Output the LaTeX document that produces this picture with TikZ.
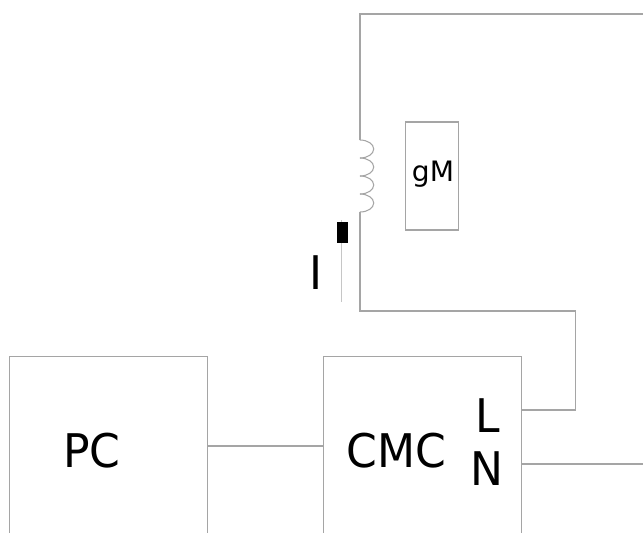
\documentclass[tikz,border=0pt]{standalone}
\usepackage{fontspec}
\setmainfont{DejaVu Sans}
\newfontfamily\narrowfont[FakeStretch=0.95]{DejaVu Sans}
\definecolor{wire_gray}{RGB}{165, 165, 165}
\tikzstyle{box}=[rectangle,draw=wire_gray,line width=0.6pt,inner sep=0pt,
  minimum width=3.96cm,minimum height=3.6cm]
\tikzstyle{gbox}=[rectangle,draw=wire_gray,line width=0.6pt,inner sep=0pt,
  minimum width=1.07cm,minimum height=2.16cm]
\tikzstyle{bigtext}=[inner sep=0pt,font=\narrowfont\fontsize{26.4}{30}\selectfont]
\tikzstyle{smalltext}=[inner sep=0pt,font=\fontsize{16}{19}\selectfont]
\tikzstyle{wire}=[draw=wire_gray,line width=0.6pt]
\begin{document}
\begin{tikzpicture}[x=0.02cm,y=-0.02cm]
    \useasboundingbox (0,0) rectangle (643,532);
    \clip (0,0) rectangle (643,532);
    \node [style=box] (pc) at (108.5,446) {};
    \node [style=box] (cmc) at (422.8,446) {};
    \node [style=gbox] (gm) at (431.8,176) {};
    \node [style=bigtext] (pclabel) at (91.8,451) {PC};
    \node [style=bigtext] (cmclabel) at (396.5,451) {CMC};
    \node [style=bigtext] (llabel) at (488,416) {L};
    \node [style=bigtext] (nlabel) at (487,469) {N};
    \node [style=bigtext] (ilabel) at (316,273) {I};
    \node [style=smalltext,anchor=base] (gmlabel) at (433,181.5) {gM};
    \coordinate (lout) at (521.6,410);
    \coordinate (lcorner) at (575.5,410);
    \coordinate (lup) at (575.5,311);
    \coordinate (lleft) at (360,311);
    \coordinate (coilend) at (360,212);
    \coordinate (coilstart) at (360,140);
    \coordinate (topleft) at (360,14);
    \coordinate (topright) at (643,14);
    \coordinate (nout) at (521.6,464);
    \coordinate (nend) at (643,464);
    \coordinate (leadtop) at (341.7,220);
    \coordinate (leadend) at (341.7,302);
    \draw [style=wire] (pc.east) to (cmc.west);
    \draw [style=wire] (lout) -- (lcorner) -- (lup) -- (lleft) -- (coilend);
    \draw [style=wire] (coilstart) -- (topleft) -- (topright);
    \draw [style=wire] (nout) to (nend);
    \foreach \i in {0,1,2,3} {
      \draw [style=wire] (360,140+18*\i) arc [start angle=-90,end angle=90,x radius=13.7,y radius=9];
    }
    \draw [gray!45,line width=0.7pt] (leadtop) to (leadend);
    \fill [black] (336.7,222) rectangle (347.7,243);
\end{tikzpicture}
\end{document}
